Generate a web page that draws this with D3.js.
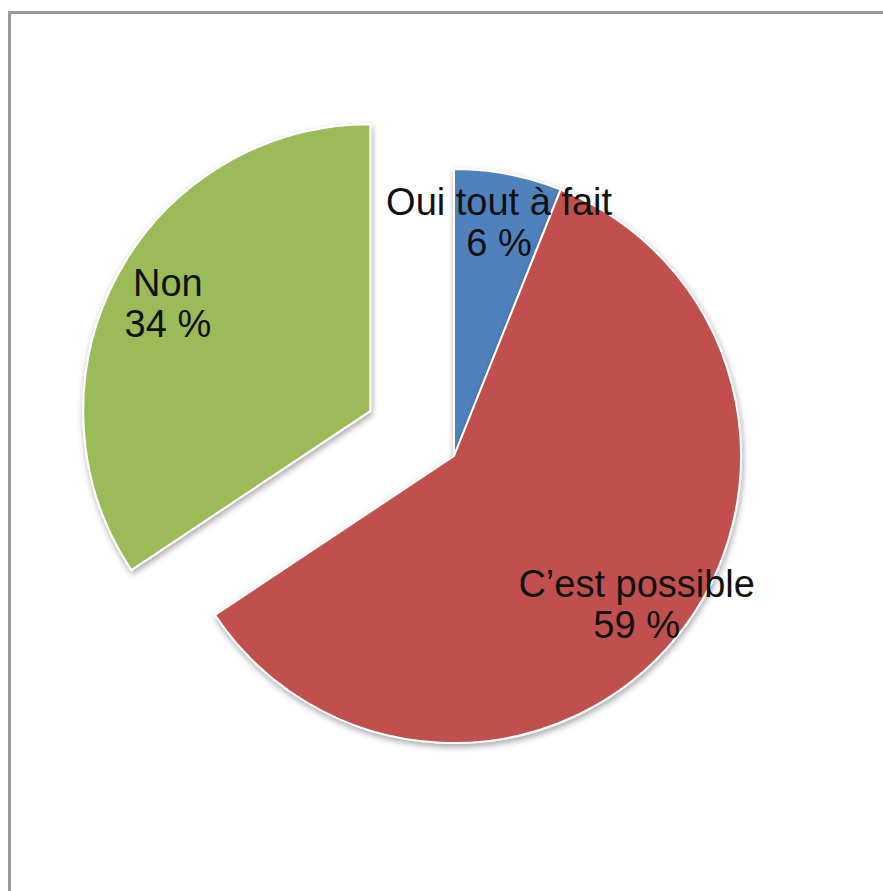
<!DOCTYPE html>
<html>
<head>
<meta charset="utf-8">
<script src="https://cdn.jsdelivr.net/npm/d3@7"></script>
<style>
  html, body { margin: 0; padding: 0; background: #fff; }
  svg { display: block; }
</style>
</head>
<body>
<svg id="chart" width="883" height="891"></svg>
<script>
// Answer categories and their shares (%)
const categories = ["Oui tout à fait", "C\u2019est possible", "Non"];
const values = [6, 59, 34];
const colors = ["#4F81BD", "#C0504D", "#9BBB59"];
// Slices pulled out from the centre (by category index)
const exploded = [false, false, true];

const width = 883, height = 891;
const cx = 454, cy = 456, radius = 287, explodeDist = 95;
// Label distance from the centre, as a fraction of the radius
const labelPos = [0.83, 0.82, 0.8];

const svg = d3.select("#chart");

// Frame around the plot area
svg.append("rect")
  .attr("x", 9.5).attr("y", 12.5)
  .attr("width", width).attr("height", height)
  .attr("fill", "none")
  .attr("stroke", "#9a9a9a")
  .attr("stroke-width", 3);

const defs = svg.append("defs");
const shadow = defs.append("filter").attr("id", "shadow")
  .attr("x", "-10%").attr("y", "-10%").attr("width", "120%").attr("height", "120%");
shadow.append("feDropShadow")
  .attr("dx", 1).attr("dy", 3).attr("stdDeviation", 3)
  .attr("flood-color", "#000").attr("flood-opacity", 0.35);

const pie = d3.pie().sort(null).value(d => d)(values);
const arc = d3.arc().innerRadius(0).outerRadius(radius);

function offset(d, i) {
  if (!exploded[i]) return [0, 0];
  const a = (d.startAngle + d.endAngle) / 2;
  return [Math.sin(a) * explodeDist, -Math.cos(a) * explodeDist];
}

const g = svg.append("g").attr("transform", `translate(${cx},${cy})`);

// Slices
g.append("g").selectAll("path").data(pie).join("path")
  .attr("transform", (d, i) => { const o = offset(d, i); return `translate(${o[0]},${o[1]})`; })
  .attr("d", arc)
  .attr("fill", (d, i) => colors[i])
  .attr("stroke", "#fff")
  .attr("stroke-width", 2)
  .attr("stroke-linejoin", "round")
  .attr("filter", "url(#shadow)");

// Category and percentage labels, drawn above all slices
const fontSize = 38, lineGap = 41;
g.append("g").selectAll("text").data(pie).join("text")
  .attr("transform", (d, i) => {
    const r = radius * labelPos[i];
    const c = d3.arc().innerRadius(r).outerRadius(r).centroid(d);
    const o = offset(d, i);
    return `translate(${c[0] + o[0]},${c[1] + o[1]})`;
  })
  .attr("text-anchor", "middle")
  .attr("font-family", "'Liberation Sans', Arial, Helvetica, sans-serif")
  .attr("font-size", fontSize)
  .attr("fill", "#111")
  .each(function(d, i) {
    const t = d3.select(this);
    t.append("tspan").attr("x", 0).attr("y", -lineGap / 2 + fontSize * 0.35).text(categories[i]);
    t.append("tspan").attr("x", 0).attr("y", lineGap / 2 + fontSize * 0.35).text(values[i] + " %");
  });
</script>
</body>
</html>
